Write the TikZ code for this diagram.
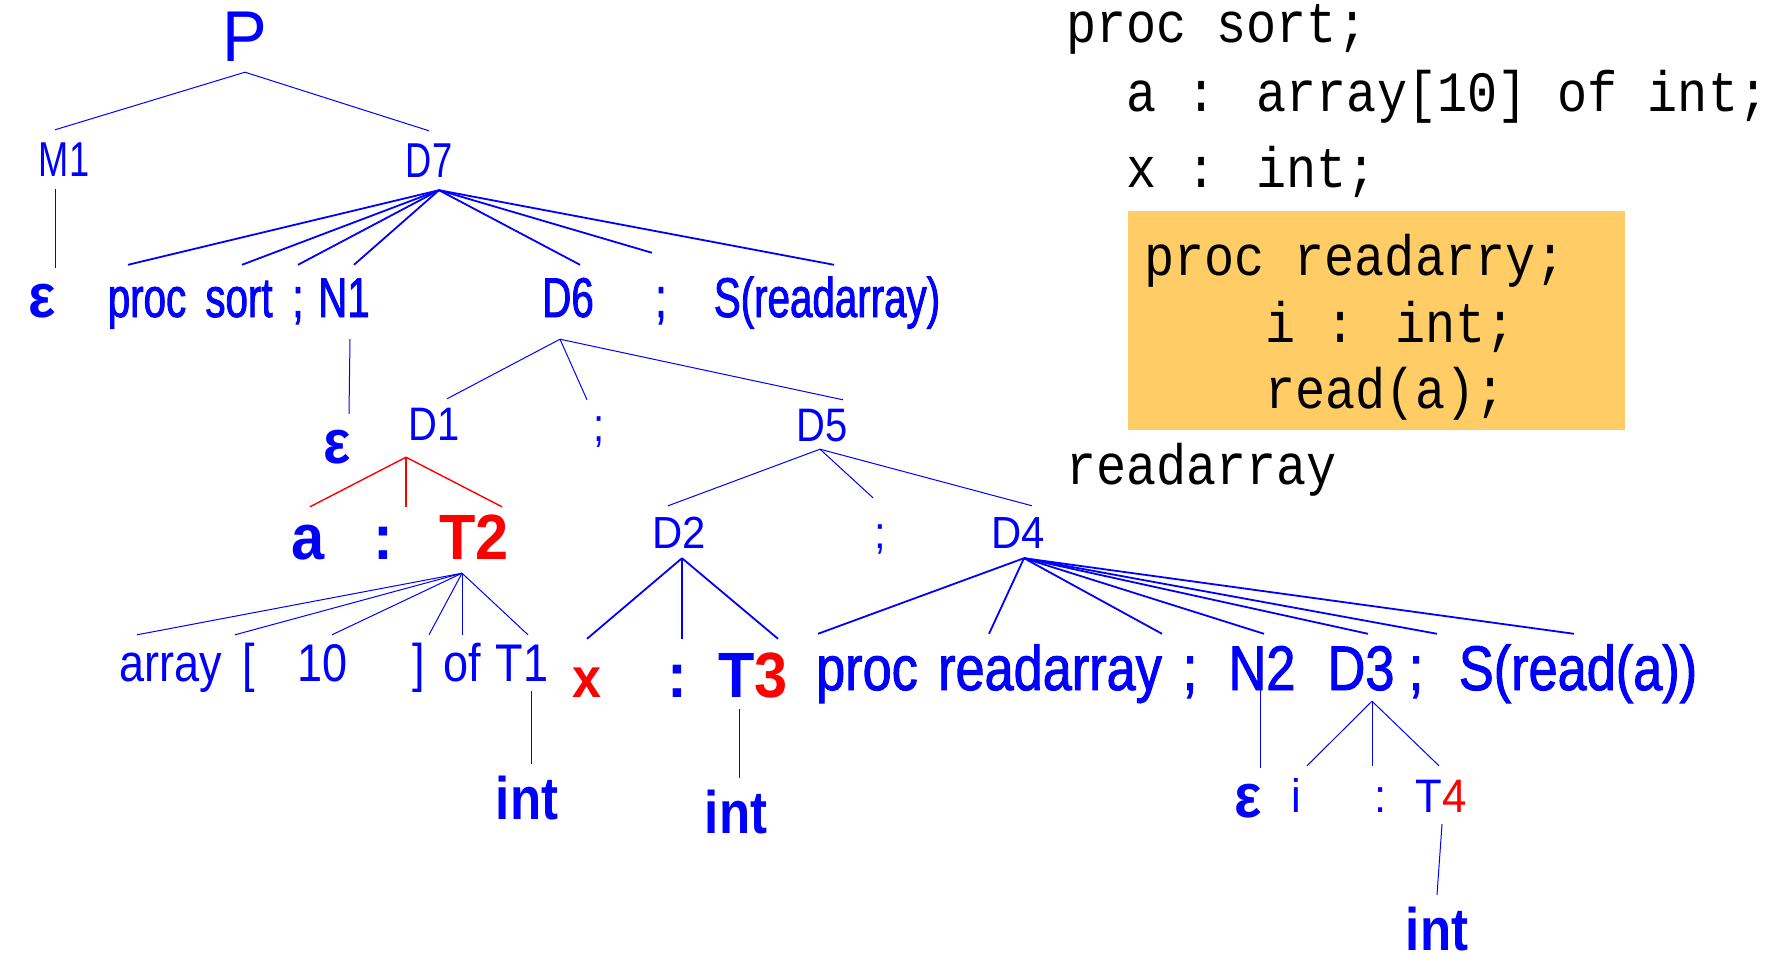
\documentclass[tikz,border=0pt]{standalone}
\usepackage{fontspec}
\usetikzlibrary{calc}
\newfontfamily\narrowfont{Liberation Sans}[FakeStretch=0.74]
\newfontfamily\heavynarrowfont{Liberation Sans}[FakeStretch=0.72, FakeBold=1.5]
\newfontfamily\midfont{Liberation Sans}[FakeStretch=0.85]
\newfontfamily\heavymidfont{Liberation Sans}[FakeStretch=0.83, FakeBold=1.5]
\newfontfamily\fullfont{Liberation Sans}[FakeStretch=0.93]
\newfontfamily\codefont{Liberation Mono}[FakeStretch=0.88]
\definecolor{treeblue}{RGB}{0,0,255}
\definecolor{treered}{RGB}{255,0,0}
\definecolor{boxorange}{RGB}{255,204,102}

\tikzset{
  lbl/.style={anchor=base, inner xsep=0pt, text depth=0pt, text=treeblue},
  toplbl/.style={lbl, font=\fullfont\fontsize{72}{80}\selectfont, text height=52pt, inner ysep=10pt},
  lvla/.style={lbl, font=\narrowfont\fontsize{49}{56}\selectfont, text height=35pt, inner ysep=12pt},
  rowa/.style={lbl, font=\heavynarrowfont\fontsize{56}{64}\selectfont, text height=40pt, inner ysep=12pt},
  epsl/.style={lbl, font=\fullfont\bfseries\fontsize{62}{70}\selectfont, text height=34pt, inner ysep=15pt},
  lvlb/.style={lbl, font=\midfont\fontsize{47}{54}\selectfont, text height=33pt, inner ysep=8pt},
  lvlc/.style={lbl, font=\fullfont\fontsize{45}{52}\selectfont, text height=32pt, inner ysep=10pt},
  bigb/.style={lbl, font=\fullfont\bfseries\fontsize{64}{72}\selectfont, text height=46pt, inner ysep=6pt},
  rowb/.style={lbl, font=\midfont\fontsize{53}{60}\selectfont, text height=38pt, inner ysep=8pt},
  rowc/.style={lbl, font=\heavymidfont\fontsize{63}{70}\selectfont, text height=45pt, inner ysep=11pt},
  lvld/.style={lbl, font=\fullfont\fontsize{47}{54}\selectfont, text height=34pt, inner ysep=12pt},
  intb/.style={lbl, font=\midfont\bfseries\fontsize{60}{68}\selectfont, text height=43pt, inner ysep=12pt},
  codeline/.style={anchor=base west, inner sep=0pt, text height=34pt, font=\codefont\fontsize{57}{64}\selectfont},
  thinlink/.style={draw=treeblue, line width=1pt},
  thicklink/.style={draw=treeblue, line width=1.8pt},
  redlink/.style={draw=treered, line width=1.4pt},
}

\begin{document}
\begin{tikzpicture}[x=1pt,y=1pt,yscale=-1,xscale=1]
\useasboundingbox (0,0) rectangle (1775,976);

% Code Box
\fill [boxorange] (1128,211) rectangle (1625,430);
% Code Text
\node [codeline] (c1) at (1066,43) {proc sort;};
\node [codeline] (c2) at (1126,112) {a : array[10] of int;};
\node [codeline] (c3) at (1126,188) {x : int;};
\node [codeline] (c4) at (1144,276) {proc readarry;};
\node [codeline] (c5) at (1265,342) {i : int;};
\node [codeline] (c6) at (1265,408) {read(a);};
\node [codeline] (c7) at (1066,484) {readarray};

% Text Node
\node [toplbl] (P) at (245,62) {P};
% Text Node
\node [lvla] (M1) at (64,177) {M1};
\node [lvla] (D7) at (429,178) {D7};
% Text Node
\node [epsl] (eps1) at (42,317) {ε};
\node [rowa] (proc1) at (147,317) {proc};
\node [rowa] (sort) at (239,317) {sort};
\node [rowa] (semi1) at (298,317) {;};
\node [rowa, text depth=10pt] (N1) at (344,317) {N1};
\node [rowa, text depth=10pt] (D6) at (568,317) {D6};
\node [rowa] (semi2) at (661,317) {;};
\node [rowa] (Sra) at (827,317) {S(readarray)};
% Text Node
\node [epsl] (eps2) at (337,463) {ε};
\node [lvlb, text depth=9pt] (D1) at (434,440) {D1};
\node [lvlb] (semi3) at (599,441) {;};
\node [lvlb] (D5) at (822,441) {D5};
% Text Node
\node [bigb] (aid) at (308,559) {a};
\node [bigb] (colon1) at (383,559) {:};
\node [bigb, text=treered, text depth=8pt] (T2) at (474,559) {T2};
\node [lvlc] (D2) at (679,548) {D2};
\node [lvlc] (semi4) at (880,548) {;};
\node [lvlc] (D4) at (1018,548) {D4};
% Text Node
\node [rowb] (arr) at (171,681) {array};
\node [rowb] (lbr) at (249,681) {[};
\node [rowb] (ten) at (323,681) {10};
\node [rowb] (rbr) at (419,681) {]};
\node [rowb] (of) at (462,681) {of};
\node [rowb, text depth=2pt] (T1) at (522,681) {T1};
\node [bigb, text=treered, inner ysep=12pt, font=\fullfont\bfseries\fontsize{56}{64}\selectfont] (xid) at (587,697) {x};
\node [bigb, inner ysep=12pt] (colon2) at (677,697) {:};
\node [bigb, inner ysep=12pt] (T3) at (753,697) {T\textcolor{treered}{3}};
\node [rowc] (proc2) at (867,690) {proc};
\node [rowc] (ra) at (1050,690) {readarray};
\node [rowc] (semi5) at (1190,690) {;};
\node [rowc] (N2) at (1262,690) {N2};
\node [rowc] (D3) at (1361,690) {D3};
\node [rowc] (semi6) at (1416,690) {;};
\node [rowc] (Srd) at (1578,690) {S(read(a))};
% Text Node
\node [epsl] (eps3) at (1248,817) {ε};
\node [lvld] (iid) at (1296,812) {i};
\node [lvld] (colon3) at (1381,812) {:};
\node [lvld] (T4) at (1441,812) {T\textcolor{treered}{4}};
\node [intb] (int1) at (527,819) {int};
\node [intb] (int2) at (736,833) {int};
\node [intb] (int3) at (1437,950) {int};

% Connection
\draw [thinlink] (P.south) -- ([xshift=-9pt]M1.north);
\draw [thinlink] (P.south) -- (D7.north);
% Connection
\draw [thinlink] ([xshift=-9pt]M1.south) -- ([xshift=13pt]eps1.north);
% Connection
\draw [thicklink] ([xshift=10pt]D7.south) -- ([xshift=-19pt]proc1.north);
\draw [thicklink] ([xshift=10pt]D7.south) -- ([xshift=3pt]sort.north);
\draw [thicklink] ([xshift=10pt]D7.south) -- (semi1.north);
\draw [thicklink] ([xshift=10pt]D7.south) -- ([xshift=10pt]N1.north);
\draw [thicklink] ([xshift=10pt]D7.south) -- ([xshift=12pt]D6.north);
\draw [thicklink] ([xshift=10pt]D7.south) -- ($(semi2.north)+(-9,-12)$);
\draw [thicklink] ([xshift=10pt]D7.south) -- ([xshift=7pt]Sra.north);
% Connection
\draw [thinlink] ([xshift=6pt]N1.south) -- ([xshift=12pt]eps2.north);
% Connection
\draw [thinlink] ([xshift=-8pt]D6.south) -- ([xshift=13pt]D1.north);
\draw [thinlink] ([xshift=-8pt]D6.south) -- ([xshift=-12pt]semi3.north);
\draw [thinlink] ([xshift=-8pt]D6.south) -- ([xshift=21pt]D5.north);
% Connection
\draw [redlink] ([xshift=-28pt]D1.south) -- ([xshift=2pt]aid.north);
\draw [redlink] ([xshift=-28pt]D1.south) -- ([xshift=23pt]colon1.north);
\draw [redlink] ([xshift=-28pt]D1.south) -- ([xshift=28pt]T2.north);
% Connection
\draw [thinlink] ([xshift=-2pt]D5.south) -- ([xshift=-11pt]D2.north);
\draw [thinlink] ([xshift=-2pt]D5.south) -- ($(semi4.north)+(-7,-8)$);
\draw [thinlink] ([xshift=-2pt]D5.south) -- ([xshift=14pt]D4.north);
% Connection
\draw [thinlink] ([xshift=-12pt]T2.south) -- ([xshift=-34pt]arr.north);
\draw [thinlink] ([xshift=-12pt]T2.south) -- ([xshift=-14pt]lbr.north);
\draw [thinlink] ([xshift=-12pt]T2.south) -- ([xshift=9pt]ten.north);
\draw [thinlink] ([xshift=-12pt]T2.south) -- ([xshift=10pt]rbr.north);
\draw [thinlink] ([xshift=-12pt]T2.south) -- (of.north);
\draw [thinlink] ([xshift=-12pt]T2.south) -- ([xshift=6pt]T1.north);
% Connection
\draw [thinlink] ([xshift=9pt]T1.south) -- ([xshift=4pt]int1.north);
% Connection
\draw [thicklink] ([xshift=3pt]D2.south) -- (xid.north);
\draw [thicklink] ([xshift=3pt]D2.south) -- ([xshift=5pt]colon2.north);
\draw [thicklink] ([xshift=3pt]D2.south) -- ([xshift=25pt]T3.north);
% Connection
\draw [thinlink] ([xshift=-14pt]T3.south) -- ([xshift=3pt]int2.north);
% Connection
\draw [thicklink] ([xshift=6pt]D4.south) -- ([xshift=-49pt]proc2.north);
\draw [thicklink] ([xshift=6pt]D4.south) -- ([xshift=-61pt]ra.north);
\draw [thicklink] ([xshift=6pt]D4.south) -- ([xshift=-28pt]semi5.north);
\draw [thicklink] ([xshift=6pt]D4.south) -- ([xshift=2pt]N2.north);
\draw [thicklink] ([xshift=6pt]D4.south) -- ([xshift=7pt]D3.north);
\draw [thicklink] ([xshift=6pt]D4.south) -- ([xshift=21pt]semi6.north);
\draw [thicklink] ([xshift=6pt]D4.south) -- ([xshift=-4pt]Srd.north);
% Connection
\draw [thinlink] ($(N2.south)+(-2,-11)$) -- ([xshift=12pt]eps3.north);
% Connection
\draw [thinlink] ([xshift=11pt]D3.south) -- ([xshift=11pt]iid.north);
\draw [thinlink] ([xshift=11pt]D3.south) -- ([xshift=-9pt]colon3.north);
\draw [thinlink] ([xshift=11pt]D3.south) -- ([xshift=-2pt]T4.north);
% Connection
\draw [thinlink] ([xshift=1pt]T4.south) -- (int3.north);

\end{tikzpicture}
\end{document}
